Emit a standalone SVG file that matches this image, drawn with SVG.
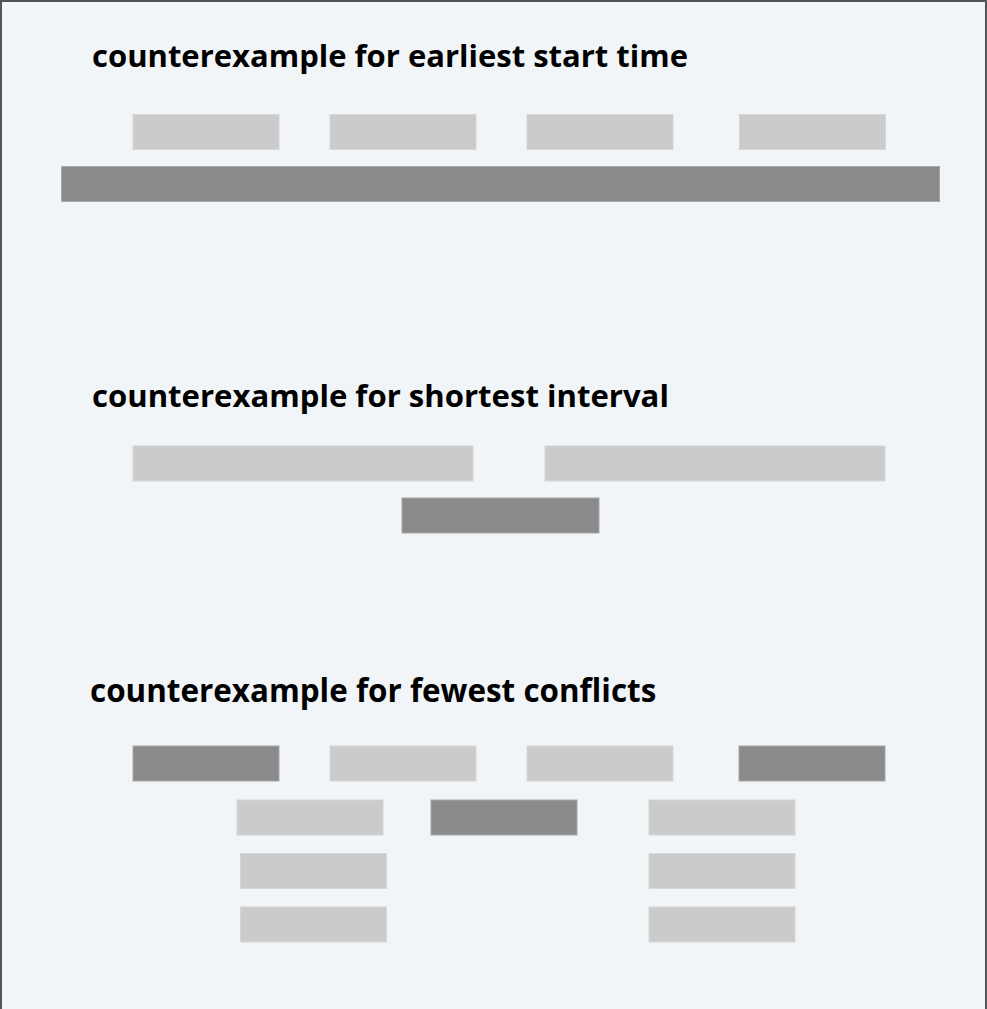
<svg xmlns="http://www.w3.org/2000/svg" width="987" height="1009" viewBox="0 0 987 1009">
<style>
.bg{fill:#f1f5f8}
.edge{stroke:#50555c;stroke-width:2;fill:none}
.title{font-family:"Open Sans","Noto Sans","Liberation Sans",sans-serif;font-weight:700;font-size:31px;fill:#000}
.lt{fill:#cbcbcb;stroke:#d6d6d6;stroke-width:1}
.dk{fill:#8a8a8a;stroke:#a8a8a8;stroke-width:1}
</style>
<rect class="bg" x="0" y="0" width="987" height="1009"/>
<path class="edge" d="M1,1009 V1 H986 V1009"/>
<g id="section1">
<text class="title" x="92" y="67">counterexample for earliest start time</text>
<g id="s1-intervals">
<rect class="lt" x="133" y="114.5" width="146" height="35"/>
<rect class="lt" x="330" y="114.5" width="146" height="35"/>
<rect class="lt" x="527" y="114.5" width="146" height="35"/>
<rect class="lt" x="739.5" y="114.5" width="146" height="35"/>
<rect class="dk" x="61.5" y="166.5" width="878" height="35"/>
</g>
</g>
<g id="section2">
<text class="title" x="92" y="407" style="font-size:31.1px">counterexample for shortest interval</text>
<g id="s2-intervals">
<rect class="lt" x="133" y="446" width="340" height="35"/>
<rect class="lt" x="545" y="446" width="340" height="35"/>
<rect class="dk" x="402" y="498" width="197" height="35"/>
</g>
</g>
<g id="section3">
<text class="title" x="90" y="702" style="font-size:31.4px">counterexample for fewest conflicts</text>
<g id="s3-intervals">
<rect class="dk" x="133" y="746" width="146" height="35"/>
<rect class="lt" x="330" y="746" width="146" height="35"/>
<rect class="lt" x="527" y="746" width="146" height="35"/>
<rect class="dk" x="739" y="746" width="146" height="35"/>
<rect class="lt" x="237" y="800" width="146" height="35"/>
<rect class="dk" x="431" y="800" width="146" height="35"/>
<rect class="lt" x="649" y="800" width="146" height="35"/>
<rect class="lt" x="240.5" y="853.5" width="146" height="35"/>
<rect class="lt" x="649" y="853.5" width="146" height="35"/>
<rect class="lt" x="240.5" y="907" width="146" height="35"/>
<rect class="lt" x="649" y="907" width="146" height="35"/>
</g>
</g>
</svg>
